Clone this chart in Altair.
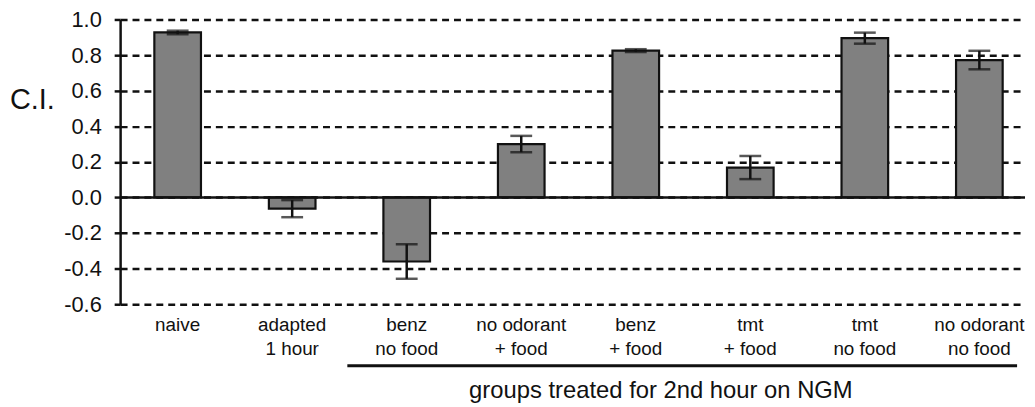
import altair as alt
import pandas as pd

categories = ["naive", "adapted|1 hour", "benz|no food", "no odorant|+ food",
              "benz|+ food", "tmt|+ food", "tmt|no food", "no odorant|no food"]
means = [0.927, -0.063, -0.36, 0.30, 0.825, 0.168, 0.895, 0.772]
errors = [0.010, 0.048, 0.097, 0.046, 0.008, 0.065, 0.031, 0.052]
y_ticks = [-0.6, -0.4, -0.2, 0.0, 0.2, 0.4, 0.6, 0.8, 1.0]

df = pd.DataFrame({"cat": categories, "ci": means, "err": errors})
df["lo"] = df["ci"] - df["err"]
df["hi"] = df["ci"] + df["err"]

FONT = "Liberation Sans"

xscale = alt.Scale(domain=categories, paddingInner=0.593, paddingOuter=0.247, align=0.605)
yscale = alt.Scale(domain=[-0.6, 1.0], nice=False, zero=False)

x_axis = alt.Axis(
    title=None, domain=False, ticks=False, labelAngle=0,
    labelExpr="split(datum.value, '|')", labelFont=FONT, labelFontSize=19,
    labelColor="#111", labelLineHeight=25, labelPadding=11, labelBaseline="top",
    labelOverlap=False)

y_axis = alt.Axis(
    values=y_ticks, tickCount=9, labelOverlap=False,
    grid=True, gridDash=[7, 5], gridColor="#111", gridWidth=2.5,
    domainColor="#111", domainWidth=2.5, tickColor="#111", tickWidth=2.5, tickSize=6,
    labelExpr="(datum.value < 0 ? '-' : '') + format(abs(datum.value), '.1f')",
    labelFont=FONT, labelFontSize=22, labelColor="#111", labelPadding=13,
    title="C.I.", titleAngle=0, titleFont=FONT, titleFontSize=29,
    titleFontWeight="normal", titleColor="#111", titleX=-89, titleY=81,
    titleAlign="center", titleBaseline="middle")


def X():
    return alt.X("cat:N", scale=xscale, sort=categories, axis=x_axis)


def Y(field):
    return alt.Y(field, scale=yscale, axis=y_axis)


base = alt.Chart(df)

bars = base.mark_bar(color="#808080", stroke="#111", strokeWidth=2.2).encode(
    x=X(), y=Y("ci:Q"))

err_rule = base.mark_rule(color="#111", strokeWidth=2.5).encode(
    x=X(), y=Y("lo:Q"), y2="hi:Q")
cap_lo = base.mark_tick(color="#111", size=22, thickness=2.5).encode(x=X(), y=Y("lo:Q"))
cap_hi = base.mark_tick(color="#111", size=22, thickness=2.5).encode(x=X(), y=Y("hi:Q"))

zero = alt.Chart(pd.DataFrame({"z": [0.0]})).mark_rule(color="#111", strokeWidth=2.5).encode(
    y=Y("z:Q"))

group_line = alt.Chart(pd.DataFrame({"a": [0]})).mark_rule(color="#111", strokeWidth=3).encode(
    x=alt.value(229), x2=alt.value(904), y=alt.value(349))
group_text = alt.Chart(pd.DataFrame({"t": ["groups treated for 2nd hour on NGM"]})).mark_text(
    font=FONT, fontSize=24, color="#111", align="center", baseline="middle").encode(
    x=alt.value(545), y=alt.value(375), text="t:N")

chart = alt.layer(bars, zero, err_rule, cap_lo, cap_hi, group_line, group_text).properties(
    width=912, height=287,
    autosize=alt.AutoSizeParams(type="none"),
    padding={"left": 113, "top": 10, "right": 2, "bottom": 100},
    background="white",
).configure_view(strokeWidth=0, stroke="transparent")

chart.save("out.html", embed_options={"renderer": "svg", "actions": False})
